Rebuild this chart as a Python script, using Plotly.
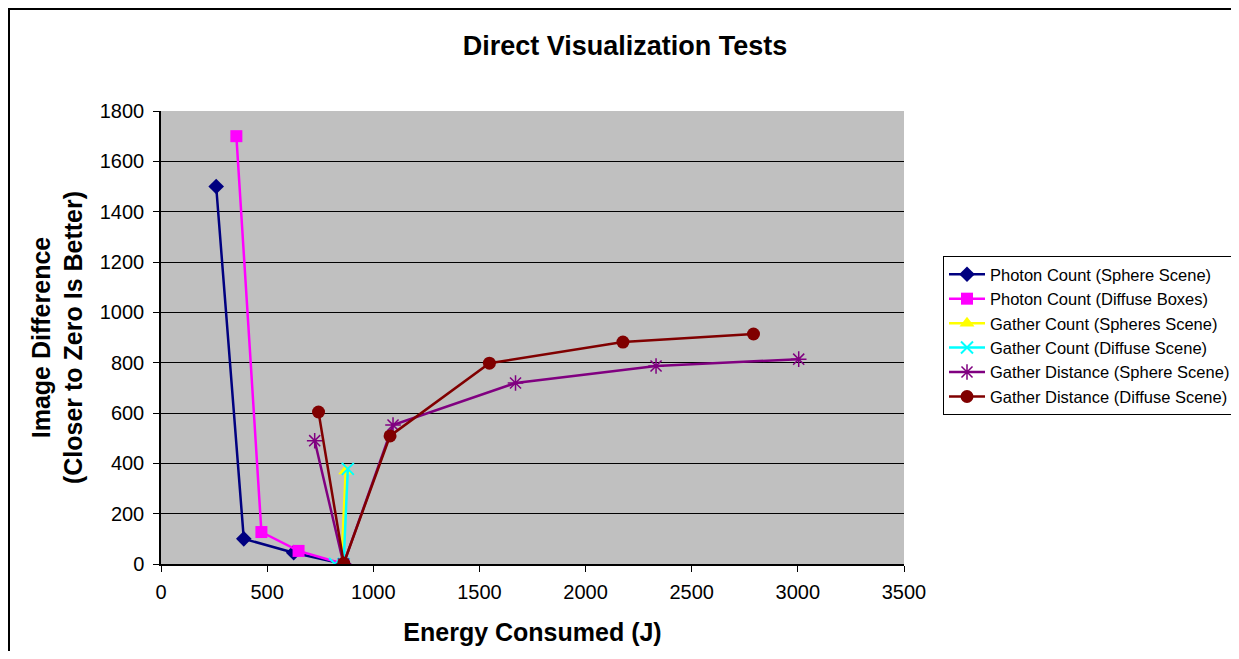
import plotly.graph_objects as go

# Data
photon_sphere_x = [260, 390, 625, 860]
photon_sphere_y = [1500, 100, 45, 0]

photon_boxes_x = [355, 473, 648, 860]
photon_boxes_y = [1700, 127, 52, 0]

gather_count_spheres_x = [850, 870]
gather_count_spheres_y = [0, 370]

gather_count_diffuse_x = [820, 860, 880]
gather_count_diffuse_y = [0, 0, 378]

gather_dist_sphere_x = [724, 860, 1093, 1670, 2332, 3004]
gather_dist_sphere_y = [490, 0, 552, 719, 787, 814]

gather_dist_diffuse_x = [742, 861, 1079, 1547, 2176, 2791]
gather_dist_diffuse_y = [604, 3, 509, 798, 882, 914]

x_ticks = [0, 500, 1000, 1500, 2000, 2500, 3000, 3500]
y_ticks = [0, 200, 400, 600, 800, 1000, 1200, 1400, 1600, 1800]

FONT = "Arial, 'Liberation Sans', sans-serif"

series = [
    ("Photon Count (Sphere Scene)", photon_sphere_x, photon_sphere_y, "#000080", "diamond", 12, None),
    ("Photon Count (Diffuse Boxes)", photon_boxes_x, photon_boxes_y, "#FF00FF", "square", 12, None),
    ("Gather Count (Spheres Scene)", gather_count_spheres_x, gather_count_spheres_y, "#FFFF00", "triangle-up", 13, None),
    ("Gather Count (Diffuse Scene)", gather_count_diffuse_x, gather_count_diffuse_y, "#00FFFF", "x-thin-open", 12, 2),
    ("Gather Distance (Sphere Scene)", gather_dist_sphere_x, gather_dist_sphere_y, "#800080", "asterisk-open", 13, 1.5),
    ("Gather Distance (Diffuse Scene)", gather_dist_diffuse_x, gather_dist_diffuse_y, "#800000", "circle", 13, None),
]

fig = go.Figure()
for name, xs, ys, color, sym, size, mlw in series:
    marker = dict(symbol=sym, size=size, color=color)
    if mlw is not None:
        marker["line"] = dict(color=color, width=mlw)
    else:
        marker["line"] = dict(width=0)
    fig.add_trace(go.Scatter(
        x=xs, y=ys, mode="lines+markers", name=name,
        line=dict(color=color, width=2.5),
        marker=marker,
    ))

# The page body has an 8px margin, so figure pixel = screen pixel - 8
W, H = 1231, 643
L, T = 153, 103
PW, PH = 743, 453

fig.update_layout(
    width=W, height=H,
    margin=dict(l=L, r=W - L - PW, t=T, b=H - T - PH, autoexpand=False),
    paper_bgcolor="white",
    plot_bgcolor="#C0C0C0",
    font=dict(family=FONT, size=20, color="black"),
    title=dict(text="<b>Direct Visualization Tests</b>", x=(625 - 8) / W, xref="container",
               y=1 - (46 - 8) / H, yref="container", xanchor="center", yanchor="middle",
               font=dict(size=27, family=FONT)),
    showlegend=True,
    legend=dict(
        x=(1228 - L) / PW, y=(T + PH - 248) / PH, xanchor="right", yanchor="top",
        bgcolor="white", bordercolor="black", borderwidth=1,
        font=dict(size=16.5, family=FONT), tracegroupgap=0, itemwidth=36,
    ),
)

fig.update_xaxes(
    range=[0, 3500], tickvals=x_ticks, showgrid=False, zeroline=False,
    showline=True, linecolor="black", linewidth=1.5, automargin=False,
    ticks="outside", ticklen=6, tickcolor="black",
    tickfont=dict(size=20), ticklabelstandoff=3,
    title=dict(text="<b>Energy Consumed (J)</b>", font=dict(size=25), standoff=22),
)
fig.update_yaxes(
    range=[0, 1800], tickvals=y_ticks, showgrid=True, gridcolor="black", gridwidth=1.2,
    zeroline=False, showline=True, linecolor="black", linewidth=1.5, automargin=False,
    ticks="outside", ticklen=6, tickcolor="black",
    tickfont=dict(size=20), ticklabelstandoff=5,
    title=dict(text="<b>Image Difference<br>(Closer to Zero Is Better)</b>", font=dict(size=25), standoff=10),
)

# Outer chart border (screen x 8..1237, top at screen y 8)
fig.add_shape(type="rect", xref="paper", yref="paper",
              x0=(1 - L) / PW, x1=(1229 - L) / PW,
              y0=(T + PH - (H + 10)) / PH, y1=(T + PH - 1) / PH,
              line=dict(color="black", width=2), fillcolor="rgba(0,0,0,0)", layer="below")

fig.write_html("out.html")
